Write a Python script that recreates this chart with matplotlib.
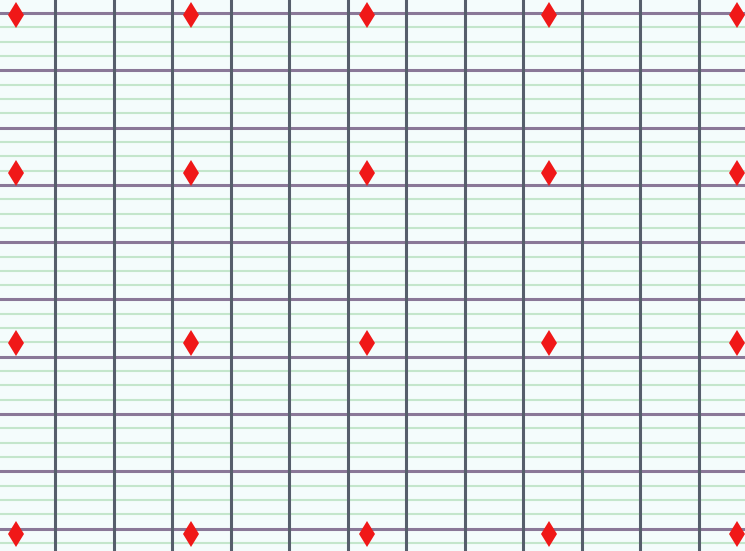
import matplotlib
matplotlib.use("Agg")
import matplotlib.pyplot as plt
from matplotlib.ticker import MultipleLocator

# marker columns / rows (grid units: 1 unit = one major cell)
x_points = [-0.66, 2.32, 5.33, 8.44, 11.65]
y_points = [0.03, 2.79, 5.76, 9.09]

fig = plt.figure(figsize=(7.45, 5.51), dpi=100)
ax = fig.add_axes([0, 0, 1, 1])
ax.set_facecolor("#f4fcfc")

ax.set_xlim(-0.94, 11.785)
ax.set_ylim(9.39, -0.227)

# grid paper
ax.xaxis.set_major_locator(MultipleLocator(1))
ax.yaxis.set_major_locator(MultipleLocator(1))
ax.yaxis.set_minor_locator(MultipleLocator(0.25))
ax.grid(which="minor", axis="y", color="#c4e6cc", lw=1.5)
ax.grid(which="major", axis="y", color="#8a7898", lw=2.2)
ax.grid(which="major", axis="x", color="#565e6c", lw=2.2)
ax.set_axisbelow(True)
# vertical lines sit on top of the horizontal ones
ax.yaxis.set_zorder(0.5)
ax.xaxis.set_zorder(0.7)

for y in y_points:
    for x in x_points:
        ax.plot(x, y, marker="d", color="#f01818", markersize=13,
                markeredgewidth=0, linestyle="none", zorder=3)

ax.tick_params(which="both", length=0, labelbottom=False, labelleft=False)
for s in ax.spines.values():
    s.set_visible(False)

fig.savefig("out.png", dpi=100)
